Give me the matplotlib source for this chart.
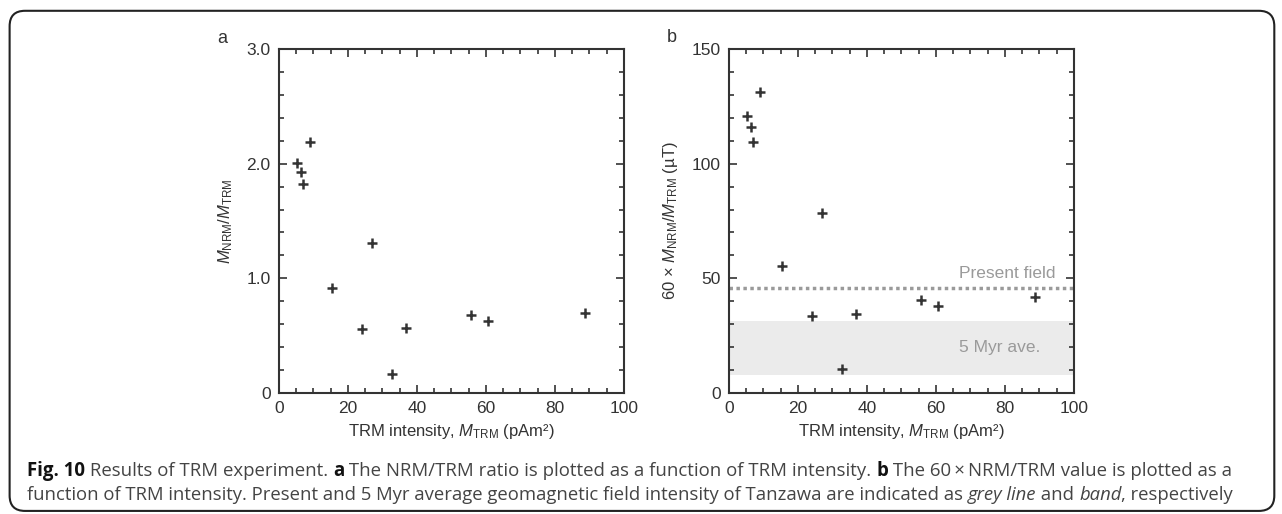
import matplotlib
matplotlib.use("Agg")
import matplotlib.pyplot as plt
from matplotlib.patches import FancyBboxPatch
from matplotlib.ticker import MultipleLocator

# TRM intensity (pAm^2) and NRM/TRM ratio
trm = [5.1, 6.3, 6.9, 9.1, 15.5, 24.2, 27.0, 32.8, 36.9, 55.6, 60.7, 88.8]
ratio = [2.01, 1.93, 1.82, 2.19, 0.92, 0.56, 1.31, 0.17, 0.57, 0.68, 0.63, 0.70]
field = [120.6, 115.9, 109.3, 131.4, 55.3, 33.7, 78.5, 10.3, 34.5, 40.7, 38.0, 42.0]

present_field = 46.0
myr_band = (7.8, 31.3)

plt.rcParams['font.family'] = ['Liberation Sans', 'DejaVu Sans']
plt.rcParams['mathtext.fontset'] = 'custom'
plt.rcParams['mathtext.rm'] = 'Liberation Sans'
plt.rcParams['mathtext.it'] = 'Liberation Sans:italic'

ink = '#333333'
grey = '#9a9a9a'


def style_axes(ax, ymajor, yminor):
    ax.set_xlim(0, 100)
    ax.xaxis.set_major_locator(MultipleLocator(20))
    ax.xaxis.set_minor_locator(MultipleLocator(5))
    ax.yaxis.set_major_locator(MultipleLocator(ymajor))
    ax.yaxis.set_minor_locator(MultipleLocator(yminor))
    ax.tick_params(which='both', direction='in', top=True, right=True,
                   colors=ink, labelcolor=ink, labelsize=12.5, width=1.2)
    ax.tick_params(which='major', length=6, pad=6)
    ax.tick_params(which='minor', length=3.5)
    for s in ax.spines.values():
        s.set_color(ink)
        s.set_linewidth(1.5)
    ax.set_xlabel(r'TRM intensity, $M_{\mathrm{TRM}}$ (pAm²)', fontsize=12, color=ink, labelpad=4)


fig = plt.figure(figsize=(12.82, 5.14), dpi=100)

ax1 = fig.add_axes([0.2176, 0.2354, 0.2691, 0.6693])
ax1.plot(trm, ratio, '+', color=ink, markersize=7.5, markeredgewidth=1.8)
ax1.set_ylim(0, 3.0)
style_axes(ax1, 1.0, 0.2)
ax1.set_yticks([0, 1, 2, 3])
ax1.set_yticklabels(['0', '1.0', '2.0', '3.0'])
ax1.set_ylabel(r'$M_{\mathrm{NRM}}/M_{\mathrm{TRM}}$', fontsize=12, color=ink, labelpad=8)
fig.text(0.173, 0.925, 'a', fontsize=13, color=ink, ha='center', va='center')

ax2 = fig.add_axes([0.5686, 0.2354, 0.2691, 0.6693])
ax2.axhspan(myr_band[0], myr_band[1], color='#ebebeb', lw=0, zorder=0)
ax2.axhline(present_field, color=grey, lw=2.5, ls=(0, (1, 1)), zorder=1)
ax2.plot(trm, field, '+', color=ink, markersize=7.5, markeredgewidth=1.8, zorder=3)
ax2.set_ylim(0, 150)
style_axes(ax2, 50, 10)
ax2.set_ylabel(r'60 × $M_{\mathrm{NRM}}/M_{\mathrm{TRM}}$ (µT)', fontsize=12, color=ink, labelpad=8)
ax2.text(94.8, 52.3, 'Present field', fontsize=12.5, color=grey, ha='right', va='center')
ax2.text(90.4, 19.8, '5 Myr ave.', fontsize=12.5, color=grey, ha='right', va='center')
fig.text(0.524, 0.928, 'b', fontsize=13, color=ink, ha='center', va='center')

# frame round the whole figure
frame = FancyBboxPatch((0.0075, 0.006), 0.9865, 0.973, boxstyle='round,pad=0,rounding_size=0.012',
                       transform=fig.transFigure, fill=False, ec='#222222', lw=1.5,
                       mutation_aspect=1282 / 514)
fig.patches.append(frame)

# caption with mixed weights
line1 = [('Fig. 10', 'bold', 'normal'), (' Results of TRM experiment. ', 'normal', 'normal'),
         ('a', 'bold', 'normal'), (' The NRM/TRM ratio is plotted as a function of TRM intensity. ', 'normal', 'normal'),
         ('b', 'bold', 'normal'), (' The 60\u2009×\u2009NRM/TRM value is plotted as a', 'normal', 'normal')]
line2 = [('function of TRM intensity. Present and 5 Myr average geomagnetic field intensity of Tanzawa are indicated as ', 'normal', 'normal'),
         ('grey line', 'normal', 'italic'), (' and ', 'normal', 'normal'),
         ('band', 'normal', 'italic'), (', respectively', 'normal', 'normal')]

renderer = fig.canvas.get_renderer()


def caption_line(pieces, x0, y0, size):
    x = x0
    for txt, weight, style in pieces:
        color = '#111111' if weight == 'bold' else '#444444'
        t = fig.text(x, y0, txt, fontsize=size, fontweight=weight, fontstyle=style,
                     family=['Open Sans', 'DejaVu Sans'], color=color, ha='left', va='baseline')
        bb = t.get_window_extent(renderer)
        x += bb.width / fig.bbox.width


caption_line(line1, 27 / 1282, 1 - 476 / 514, 13.45)
caption_line(line2, 27 / 1282, 1 - 500 / 514, 13.35)

fig.savefig('out.png', dpi=100)
